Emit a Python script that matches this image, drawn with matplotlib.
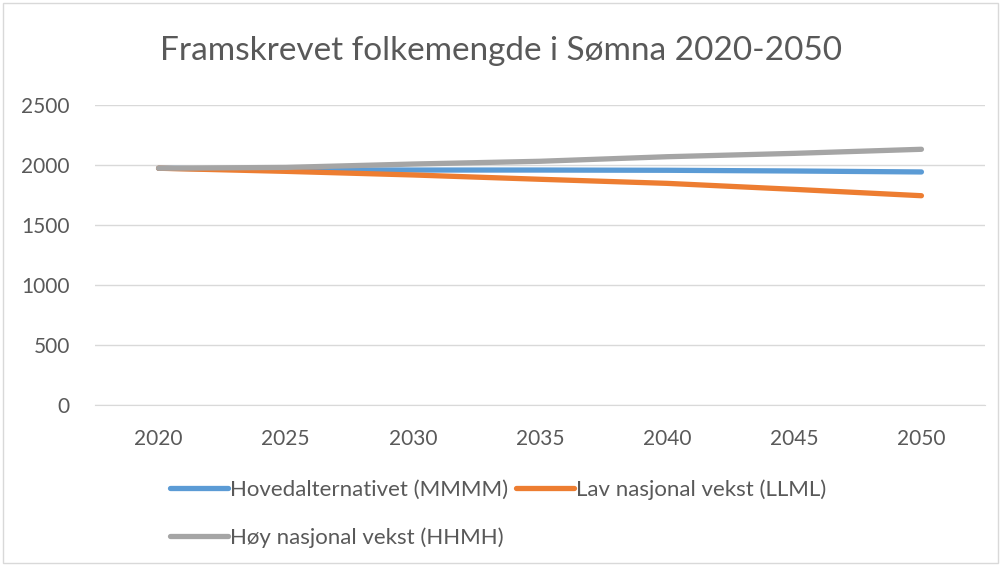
import matplotlib
matplotlib.use("Agg")
import matplotlib.pyplot as plt
from matplotlib.patches import Rectangle

years = ["2020", "2025", "2030", "2035", "2040", "2045", "2050"]
hoved = [1973, 1960, 1958, 1958, 1956, 1950, 1942]
lav = [1973, 1947, 1917, 1881, 1847, 1797, 1744]
hoy = [1973, 1980, 2008, 2031, 2069, 2097, 2131]
series_names = ["Hovedalternativet (MMMM)", "Lav nasjonal vekst (LLML)", "Høy nasjonal vekst (HHMH)"]
colors = ["#5B9BD5", "#ED7D31", "#A5A5A5"]
yticks = [0, 500, 1000, 1500, 2000, 2500]

plt.rcParams['font.family'] = ['Lato', 'DejaVu Sans']

W, H = 1002, 566
fig = plt.figure(figsize=(W/100, H/100), dpi=100)
fig.patches.append(Rectangle((3/W, 3/H), (W-7)/W, (H-6)/H, transform=fig.transFigure,
                             fill=False, edgecolor="#D9D9D9", linewidth=1))

left, right, top, bottom = 95, 985, 105, 405
ax = fig.add_axes([left/W, 1-bottom/H, (right-left)/W, (bottom-top)/H])
x = list(range(len(years)))
handles = []
for data, i in [(hoved, 0), (lav, 1), (hoy, 2)]:
    h, = ax.plot(x, data, color=colors[i], linewidth=3.8, solid_capstyle="round", label=series_names[i], zorder=3)
    handles.append(h)

ax.set_xlim(-0.5, len(years)-0.5)
ax.set_ylim(0, 2500)
ax.set_yticks(yticks)
ax.set_xticks(x)
ax.set_xticklabels(years)
ax.grid(axis="y", color="#D9D9D9", linewidth=1)
ax.set_axisbelow(True)
for s in ["left", "right", "top"]:
    ax.spines[s].set_visible(False)
ax.spines["bottom"].set_color("#D9D9D9")
ax.tick_params(length=0, labelsize=15, labelcolor="#595959")
ax.tick_params(axis="y", pad=18)
ax.tick_params(axis="x", pad=17)

fig.text(0.5, 1-51/H, "Framskrevet folkemengde i Sømna 2020-2050", ha="center", va="center",
         fontsize=24, color="#595959")

leg_order = [0, 2, 1]
leg = fig.legend(handles=[handles[i] for i in leg_order], labels=[series_names[i] for i in leg_order],
                 ncol=2, loc="upper left",
                 bbox_to_anchor=(170/W, 1-479/H), frameon=False, fontsize=16,
                 handlelength=2.6, handletextpad=0.1, columnspacing=0.35, labelspacing=1.25,
                 borderaxespad=0, borderpad=0)
for t in leg.get_texts():
    t.set_color("#595959")

fig.savefig("out.png", dpi=100)
